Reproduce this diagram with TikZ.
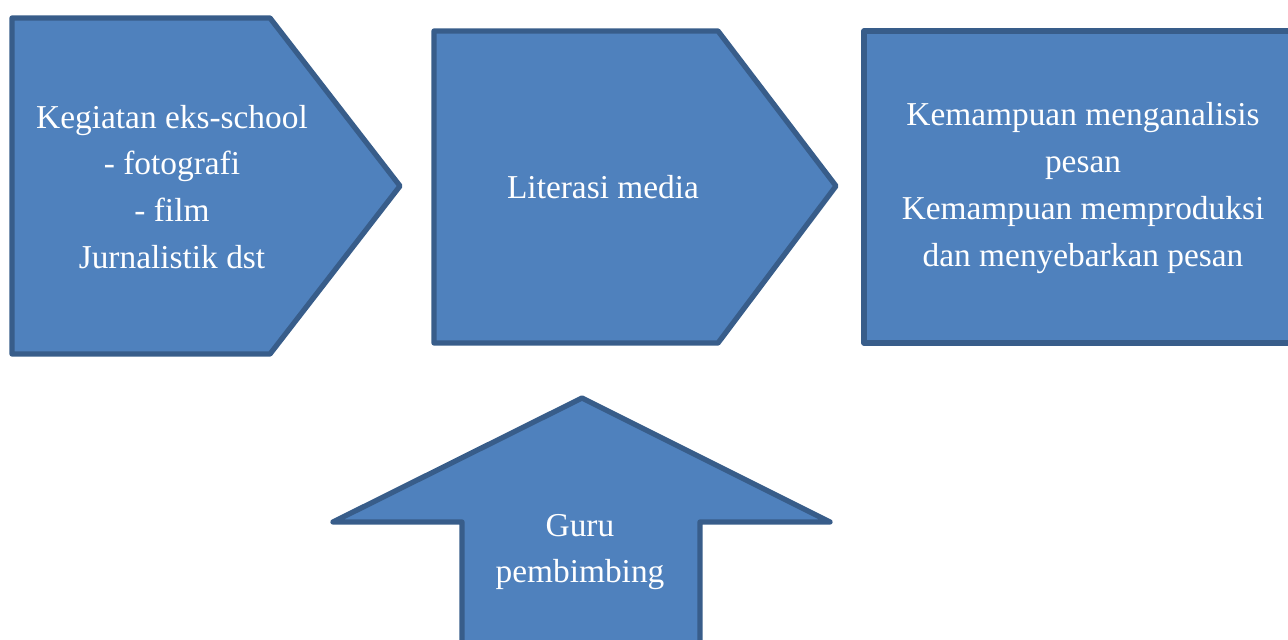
\documentclass[tikz,border=0pt]{standalone}
\usepackage{fontspec}
\setmainfont{Liberation Serif}
\usepackage{tikz}
\usetikzlibrary{positioning}
\definecolor{blockblue}{RGB}{79,129,189}
\definecolor{blockedge}{RGB}{56,93,138}

\begin{document}
\begin{tikzpicture}[x=0.02cm,y=-0.02cm,
  blk/.style={fill=blockblue,draw=blockedge,line width=3pt,line join=round},
  lbl/.style={text=white,align=center,font=\fontsize{19}{26.7}\selectfont},
]
\useasboundingbox (0,0) rectangle (1288,639);
\clip (0,0) rectangle (1288,639);

%% Input: extracurricular activities
\draw[blk] (12,18) -- (270,18) -- (400,186) -- (270,354) -- (12,354) -- cycle;
\node[lbl] (kegiatan) at (172,187)
  {Kegiatan eks-school\\- fotografi\\- film\\Jurnalistik dst};

%% Process: media literacy
\draw[blk] (434,31) -- (718,31) -- (836,186) -- (718,343) -- (434,343) -- cycle;
\node[lbl] (literasi) at (603,187) {Literasi media};

%% Output: abilities
\draw[blk] (864,31) rectangle (1310,343);
\node[lbl] (kemampuan) at (1083,188)
  {Kemampuan menganalisis\\pesan\\Kemampuan memproduksi\\dan menyebarkan pesan};

%% Support: teacher
\draw[blk] (582,398) -- (830,522) -- (700,522) -- (700,660)
  -- (462,660) -- (462,522) -- (333,522) -- cycle;
\node[lbl] (guru) at (580,552) {Guru\\pembimbing};

\end{tikzpicture}
\end{document}
